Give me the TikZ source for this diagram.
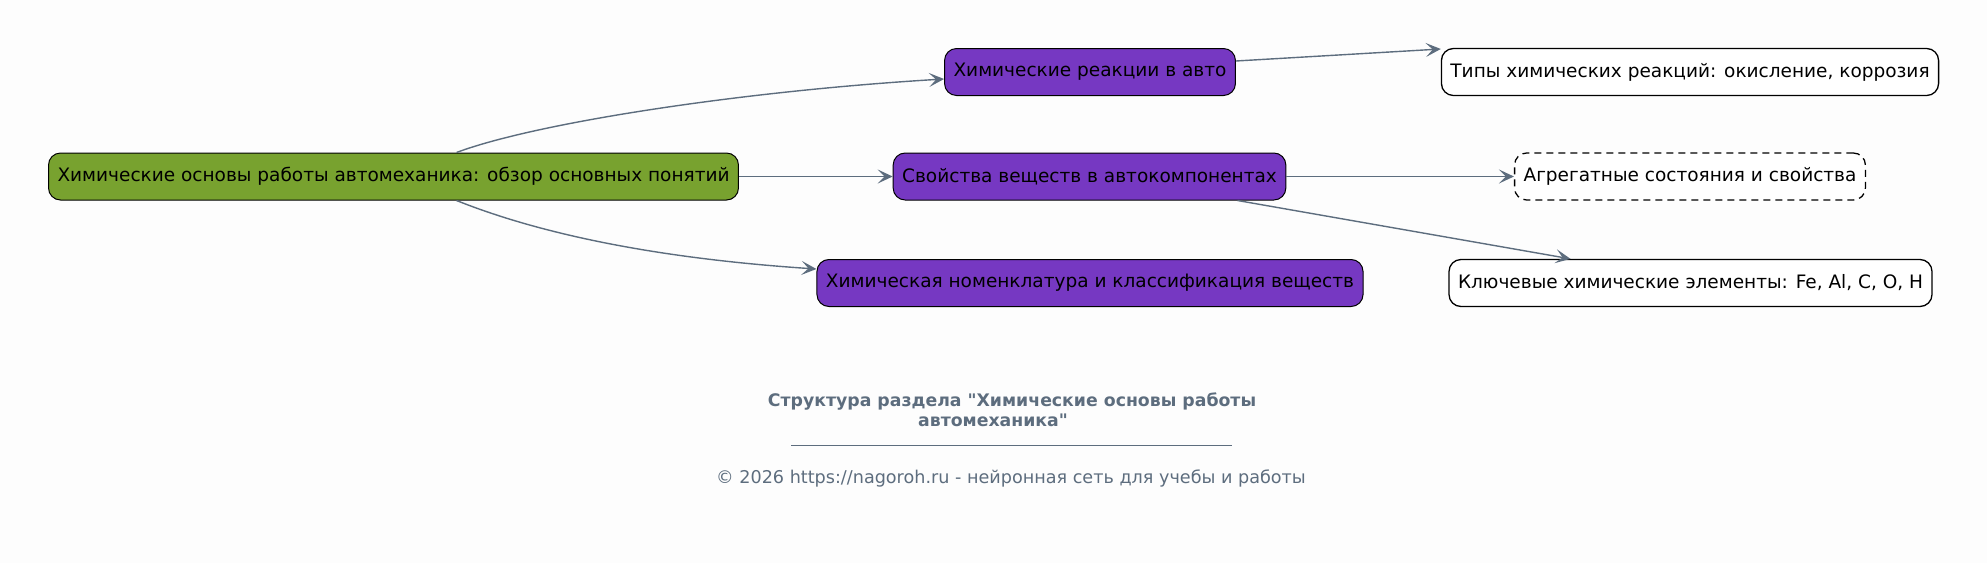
\documentclass[tikz,border=0pt]{standalone}
\usepackage{fontspec}
\setmainfont{DejaVu Sans}
\usetikzlibrary{positioning, arrows.meta}

\definecolor{bgcol}{HTML}{FDFDFD}
\definecolor{edgecol}{HTML}{5D6D7E}
\definecolor{rootcol}{HTML}{78A22F}
\definecolor{topiccol}{HTML}{7638C2}

\begin{document}
\begin{tikzpicture}[
    box/.style={rectangle, draw, rounded corners=12pt,
                minimum height=47pt, inner xsep=9pt,
                font=\fontsize{18.5}{22}\selectfont, line width=1pt},
    rootbox/.style={box, fill=rootcol},
    topic/.style={box, fill=topiccol},
    leaf/.style={box, fill=white, line width=1.3pt},
    optleaf/.style={leaf, dash pattern=on 7pt off 5pt},
    arrow/.style={-{Stealth[length=15pt, width=14pt, inset=7pt]},
                  draw=edgecol, line width=1.4pt},
    caption/.style={font=\bfseries\fontsize{17.3}{20}\selectfont,
                    text=edgecol, align=center},
    note/.style={font=\fontsize{17.6}{21}\selectfont, text=edgecol}
]
  % background and margins
  \fill[bgcol] (0pt, 0pt) rectangle (1987pt, -563pt);

  % --- Root (left) ---
  \node[rootbox] (root) at (393.5pt, -176.5pt)
    {Химические основы работы автомеханика: обзор основных понятий};

  % --- Topics (middle) ---
  \node[topic] (react) at (1090pt, -72pt) {Химические реакции в авто};
  \node[topic] (props) at (1089.5pt, -176.5pt) {Свойства веществ в автокомпонентах};
  \node[topic] (nomen) at (1090pt, -283pt) {Химическая номенклатура и классификация веществ};

  % --- Details (right) ---
  \node[leaf] (types) at (1690pt, -72pt) {Типы химических реакций: окисление, коррозия};
  \node[optleaf] (states) at (1690pt, -176.5pt) {Агрегатные состояния и свойства};
  \node[leaf] (elems) at (1690.5pt, -283pt) {Ключевые химические элементы: Fe, Al, C, O, H};

  \draw[arrow] ([xshift=63pt]root.north) .. controls +(80pt, 30pt) and +(-200pt, -12pt) .. ([yshift=-7pt]react.west);
  \draw[arrow] (root) -- (props);
  \draw[arrow] ([xshift=63pt]root.south) .. controls +(90pt, -36pt) and +(-150pt, 10pt) .. ([yshift=14pt]nomen.west);

  \draw[arrow] ([yshift=11pt]react.east) -- ([yshift=23pt]types.west);
  \draw[arrow] (props) -- (states);
  \draw[arrow] ([xshift=148pt]props.south) -- ([xshift=-120pt]elems.north);

  % Caption
  \node[caption] (title) at (1012pt, -410pt)
    {Структура раздела \textquotedbl Химические основы работы\\автомеханика\textquotedbl\hspace*{38pt}};
  \coordinate (ruleL) at (791pt, -445pt);
  \coordinate (ruleR) at (1232pt, -445pt);
  \draw[edgecol, line width=0.8pt] (ruleL) -- (ruleR);
  \node[note] (copy) at (1011pt, -478pt)
    {© 2026 https://nagoroh.ru - нейронная сеть для учебы и работы};

\end{tikzpicture}
\end{document}
